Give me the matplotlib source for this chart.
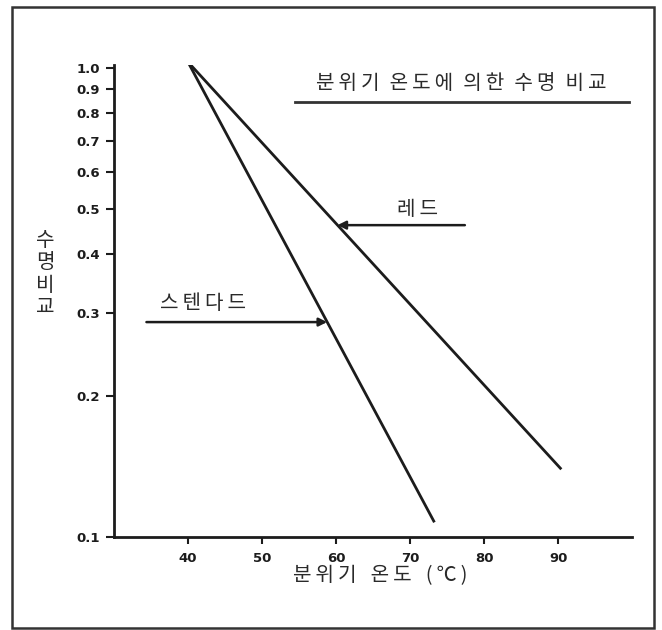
import numpy as np
import matplotlib.pyplot as plt
from matplotlib.patches import Rectangle

plt.rcParams['font.family'] = ['Noto Sans CJK KR', 'DejaVu Sans']

# 데이터
temp_std = [40, 73.2]
life_std = [1.03, 0.108]
temp_red = [40, 90.3]
life_red = [1.03, 0.14]

x_ticks = [40, 50, 60, 70, 80, 90]
y_ticks = [0.1, 0.2, 0.3, 0.4, 0.5, 0.6, 0.7, 0.8, 0.9, 1.0]
y_labels = ['0.1', '0.2', '0.3', '0.4', '0.5', '0.6', '0.7', '0.8', '0.9', '1.0']


def spread(s, sep='\u2002\u2009'):
    # 글자 사이를 조금 띄움
    return sep.join('\u2009'.join(w) for w in s.split(' '))


fig = plt.figure(figsize=(6.62, 6.3), dpi=100)
ax = fig.add_axes([0.172, 0.148, 0.783, 0.749])

lc = '#1c1c1c'
tc = '#2a2a2a'
kfs = 14.5
kw = 'light'
ax.plot(temp_std, life_std, color=lc, linewidth=2)
ax.plot(temp_red, life_red, color=lc, linewidth=2)

ax.set_yscale('log')
ax.set_xlim(30, 100)
ax.set_ylim(0.1, 1.015)
ax.set_yticks(y_ticks)
ax.set_yticklabels(y_labels)
ax.minorticks_off()
ax.set_xticks(x_ticks)

for s in ['top', 'right']:
    ax.spines[s].set_visible(False)
for s in ['left', 'bottom']:
    ax.spines[s].set_linewidth(2)
    ax.spines[s].set_color(lc)
ax.tick_params(axis='y', direction='out', length=6, width=1.5, pad=4, colors=lc)
ax.tick_params(axis='x', direction='out', length=5, width=1.5, pad=6, colors=lc)
for t in ax.get_xticklabels() + ax.get_yticklabels():
    t.set_family('DejaVu Sans')
    t.set_fontweight('bold')
    t.set_fontsize(9.5)

# 제목과 밑줄
ax.text(76.9, 0.925, spread('분위기 온도에 의한 수명 비교', '\u2002'), ha='center', va='center',
        fontsize=kfs, fontweight=kw, color=tc)
ax.plot([54.4, 99.5], [0.846, 0.846], color='#333333', linewidth=2)

# 화살표와 라벨
ax.annotate('', xy=(60.2, 0.462), xytext=(77.4, 0.462),
            arrowprops=dict(arrowstyle='-|>', color=lc, lw=1.8, mutation_scale=12, shrinkA=0, shrinkB=0))
ax.text(71.0, 0.50, spread('레드'), ha='center', va='center', fontsize=kfs, fontweight=kw, color=tc)
ax.annotate('', xy=(58.8, 0.287), xytext=(34.4, 0.287),
            arrowprops=dict(arrowstyle='-|>', color=lc, lw=1.8, mutation_scale=12, shrinkA=0, shrinkB=0))
ax.text(42.0, 0.315, spread('스텐다드'), ha='center', va='center', fontsize=kfs, fontweight=kw, color=tc)

# 축 제목
fig.text(45 / 662, 1 - 274 / 630, '수\n명\n비\n교', ha='center', va='center', fontsize=kfs,
         fontweight=kw, linespacing=1.1, color=tc)
fig.text(380 / 662, 1 - 576 / 630, spread('분위기 온도 (℃)'), ha='center', va='center',
         fontsize=kfs, fontweight=kw, color=tc)

# 바깥 테두리
fig.patches.append(Rectangle((12 / 662, 2 / 630), 642 / 662, 621 / 630, transform=fig.transFigure,
                             fill=False, edgecolor='#333333', linewidth=1.8))

fig.savefig('out.png', dpi=100)
